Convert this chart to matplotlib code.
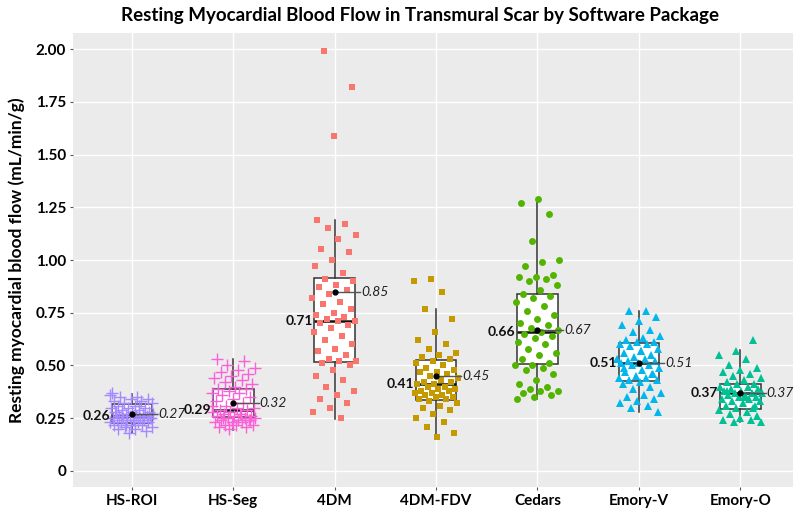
import numpy as np
import matplotlib
matplotlib.use("Agg")
import matplotlib.pyplot as plt

plt.rcParams['font.family'] = ['Lato', 'DejaVu Sans']

categories = ["HS-ROI", "HS-Seg", "4DM", "4DM-FDV", "Cedars", "Emory-V", "Emory-O"]
colors = ["#A58AFF", "#FB61D7", "#F8766D", "#C49A00", "#53B400", "#00B6EB", "#00C094"]
markers = ["+", "+", "s", "s", "o", "^", "^"]

hs_roi = [0.36, 0.35, 0.35, 0.34, 0.34, 0.33, 0.33, 0.32, 0.32, 0.31, 0.31, 0.30, 0.30, 0.30,
          0.29, 0.29, 0.28, 0.28, 0.28, 0.27, 0.27, 0.27, 0.26, 0.26, 0.26, 0.26, 0.25, 0.25,
          0.25, 0.25, 0.24, 0.24, 0.24, 0.24, 0.23, 0.23, 0.23, 0.23, 0.22, 0.22, 0.22, 0.21,
          0.21, 0.20, 0.20, 0.19, 0.18, 0.37, 0.31, 0.27, 0.25, 0.24, 0.28, 0.26, 0.22]
hs_seg = [0.53, 0.52, 0.50, 0.49, 0.48, 0.47, 0.46, 0.45, 0.44, 0.43, 0.42, 0.41, 0.40, 0.39,
          0.39, 0.38, 0.37, 0.37, 0.36, 0.35, 0.34, 0.33, 0.32, 0.31, 0.30, 0.30, 0.29, 0.29,
          0.28, 0.28, 0.27, 0.27, 0.26, 0.26, 0.26, 0.25, 0.25, 0.25, 0.24, 0.24, 0.24, 0.23,
          0.23, 0.23, 0.22, 0.22, 0.22, 0.21, 0.21, 0.20, 0.31, 0.27, 0.25, 0.24, 0.23]
dm4 = [1.99, 1.82, 1.59, 1.19, 1.17, 1.15, 1.12, 1.10, 1.05, 1.04, 1.00, 0.97, 0.94,
       0.91, 0.90, 0.88, 0.87, 0.86, 0.84, 0.82, 0.80, 0.79, 0.77, 0.75, 0.74, 0.73, 0.72,
       0.71, 0.71, 0.70, 0.69, 0.68, 0.66, 0.64, 0.62, 0.60, 0.58, 0.57, 0.55, 0.53, 0.52,
       0.52, 0.51, 0.50, 0.48, 0.45, 0.43, 0.40, 0.38, 0.36, 0.34, 0.32, 0.30, 0.28, 0.25]
dm4_fdv = [0.91, 0.90, 0.85, 0.77, 0.72, 0.66, 0.62, 0.60, 0.58, 0.56, 0.55, 0.54, 0.53, 0.52,
           0.51, 0.50, 0.49, 0.48, 0.47, 0.47, 0.46, 0.45, 0.44, 0.43, 0.42, 0.42, 0.41, 0.41,
           0.40, 0.40, 0.39, 0.39, 0.38, 0.38, 0.37, 0.37, 0.36, 0.36, 0.35, 0.35, 0.34, 0.34,
           0.33, 0.32, 0.31, 0.30, 0.29, 0.27, 0.25, 0.23, 0.21, 0.18, 0.16]
cedars = [1.29, 1.27, 1.22, 1.09, 1.00, 0.99, 0.97, 0.93, 0.92, 0.92, 0.91, 0.90, 0.88, 0.86,
          0.84, 0.83, 0.82, 0.80, 0.78, 0.76, 0.74, 0.72, 0.70, 0.69, 0.68, 0.67, 0.66, 0.65,
          0.64, 0.63, 0.61, 0.60, 0.58, 0.56, 0.55, 0.53, 0.51, 0.50, 0.50, 0.49, 0.48, 0.46,
          0.43, 0.41, 0.40, 0.39, 0.38, 0.38, 0.37, 0.36, 0.35, 0.34]
emory_v = [0.76, 0.76, 0.73, 0.71, 0.69, 0.67, 0.66, 0.64, 0.63, 0.62, 0.61, 0.61, 0.60, 0.60,
           0.59, 0.58, 0.57, 0.56, 0.55, 0.54, 0.53, 0.53, 0.52, 0.52, 0.51, 0.51, 0.50, 0.50,
           0.49, 0.48, 0.47, 0.46, 0.45, 0.44, 0.44, 0.43, 0.43, 0.42, 0.41, 0.40, 0.39, 0.37,
           0.36, 0.35, 0.34, 0.33, 0.32, 0.31, 0.30, 0.28, 0.57, 0.49, 0.46]
emory_o = [0.62, 0.57, 0.55, 0.53, 0.50, 0.49, 0.48, 0.47, 0.46, 0.45, 0.44, 0.43, 0.42, 0.41,
           0.41, 0.40, 0.40, 0.39, 0.39, 0.38, 0.38, 0.37, 0.37, 0.37, 0.36, 0.36, 0.35, 0.35,
           0.34, 0.34, 0.33, 0.33, 0.32, 0.31, 0.30, 0.30, 0.29, 0.28, 0.27, 0.26, 0.25, 0.24,
           0.24, 0.23, 0.23, 0.35, 0.38, 0.31]
groups = [hs_roi, hs_seg, dm4, dm4_fdv, cedars, emory_v, emory_o]

# box statistics
q1 = [0.227, 0.254, 0.516, 0.336, 0.506, 0.426, 0.292]
medians = [0.26, 0.29, 0.71, 0.41, 0.66, 0.51, 0.37]
q3 = [0.318, 0.389, 0.915, 0.526, 0.837, 0.608, 0.411]
whis_lo = [0.18, 0.195, 0.246, 0.16, 0.34, 0.28, 0.232]
whis_hi = [0.365, 0.53, 1.19, 0.768, 1.29, 0.758, 0.573]
means = [0.27, 0.32, 0.85, 0.45, 0.67, 0.51, 0.37]
median_labels = ["0.26", "0.29", "0.71", "0.41", "0.66", "0.51", "0.37"]
mean_labels = ["0.27", "0.32", "0.85", "0.45", "0.67", "0.51", "0.37"]

fig = plt.figure(figsize=(7.97, 5.11), dpi=100)
ax = fig.add_axes([73 / 797, 1 - 487 / 511, (793 - 73) / 797, (487 - 33) / 511])
ax.set_facecolor("#EBEBEB")
for s in ax.spines.values():
    s.set_visible(False)

positions = np.arange(1, len(categories) + 1)
stats = []
for i in range(len(categories)):
    stats.append(dict(med=medians[i], q1=q1[i], q3=q3[i], whislo=whis_lo[i],
                      whishi=whis_hi[i], fliers=[], mean=means[i]))
ax.bxp(stats, positions=positions, widths=0.4, patch_artist=True, showfliers=False,
       showcaps=False, showmeans=False,
       boxprops=dict(facecolor="white", edgecolor="#333333", linewidth=1.1),
       whiskerprops=dict(color="#333333", linewidth=1.1),
       medianprops=dict(color="#111111", linewidth=1.8), zorder=2)

for i, vals in enumerate(groups):
    vals = np.asarray(vals)
    n = len(vals)
    offs = (((np.arange(n) * 0.6180339887 + 0.13 * i) % 1.0) - 0.5) * 0.44
    kw = dict(color=colors[i], marker=markers[i], zorder=3, linestyle="none")
    if markers[i] == "+":
        ax.plot(positions[i] + offs, vals, markersize=8, markeredgewidth=1.0, **kw)
    elif markers[i] == "s":
        ax.plot(positions[i] + offs, vals, markersize=4.5, markeredgewidth=0, **kw)
    elif markers[i] == "o":
        ax.plot(positions[i] + offs, vals, markersize=5, markeredgewidth=0, **kw)
    else:
        ax.plot(positions[i] + offs, vals, markersize=5.5, markeredgewidth=0, **kw)

for i in range(len(categories)):
    x = positions[i]
    ax.plot([x], [means[i]], marker="o", color="black", markersize=3.5, zorder=5)
    ax.plot([x, x + 0.25], [means[i], means[i]], color="#555555", linewidth=1.0, zorder=4)
    ax.text(x + 0.26, means[i], mean_labels[i], ha="left", va="center",
            fontsize=10, style="italic", color="#222222", zorder=6)
    ax.text(x - 0.215, medians[i], median_labels[i], ha="right", va="center",
            fontsize=10, fontweight="bold", color="#111111", zorder=6)

ax.set_xlim(0.42, 7.52)
ax.set_ylim(-0.076, 2.076)
yt = [0, 0.25, 0.5, 0.75, 1.0, 1.25, 1.5, 1.75, 2.0]
ax.set_yticks(yt)
ax.set_yticklabels(["0", "0.25", "0.50", "0.75", "1.00", "1.25", "1.50", "1.75", "2.00"],
                   fontsize=11, fontweight="bold")
ax.set_xticks(positions)
ax.set_xticklabels(categories, fontsize=11, fontweight="bold")
ax.tick_params(axis="both", length=2, color="#555555", pad=3)
ax.grid(True, color="white", linewidth=1.0)
ax.set_axisbelow(True)
ax.set_ylabel("Resting myocardial blood flow (mL/min/g)", fontsize=12.5,
              fontweight="bold", labelpad=8)
fig.text(420 / 797, 1 - 15 / 511,
         "Resting Myocardial Blood Flow in Transmural Scar by Software Package",
         ha="center", va="center", fontsize=13.5, fontweight="bold")

fig.savefig("out.png", dpi=100)
